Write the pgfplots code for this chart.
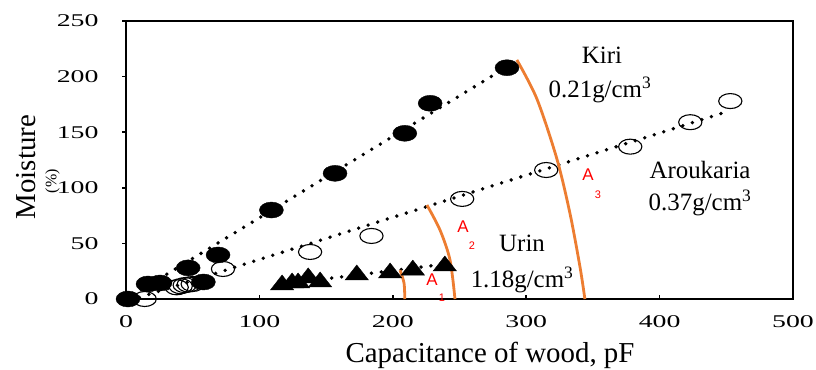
\documentclass[border=0pt]{standalone}
\usepackage{pgfplots}
\pgfplotsset{compat=1.18}
\usepackage{fontspec}
\setmainfont{Liberation Serif}
\newfontfamily\sansf{Liberation Sans}
\usepackage{graphicx}
\definecolor{orng}{RGB}{237,125,49}
\begin{document}
\begin{tikzpicture}[x=1bp,y=1bp]
\useasboundingbox (0,0) rectangle (816,369);
\begin{axis}[
  at={(126bp,70bp)}, anchor=south west,
  scale only axis, width=667bp, height=278bp,
  xmin=0, xmax=500, ymin=0, ymax=250,
  xtick={0,100,200,300,400,500},
  ytick={0,50,100,150,200,250},
  xtick pos=lower, ytick pos=left,
  xtick align=inside, ytick align=outside,
  major tick length=4bp,
  axis line style={line width=1.6bp},
  every tick/.style={black, line width=1.6bp},
  tick label style={font=\fontsize{18}{18}\selectfont},
  xticklabel={\scalebox{1.55}[1]{\pgfmathprintnumber[assume math mode=true]{\tick}}},
  yticklabel={\scalebox{1.55}[1]{\pgfmathprintnumber[assume math mode=true]{\tick}}},
  yticklabel style={anchor=east, xshift=-20bp},
  xticklabel style={anchor=base, yshift=-28bp},
  clip=false,
]
% Kiri (filled circles)
\addplot[only marks, mark=*, mark size=8bp, mark options={xscale=1.5, fill=black, draw=black}]
coordinates {(1.5,0) (16.5,13.5) (25.5,14.4) (46.6,28) (58,15.3) (69,39.6) (109,80) (156.7,113) (209,149) (228,176) (285.6,208)};
% Aroukaria (open circles)
\addplot[only marks, mark=o, mark size=7.5bp, mark options={xscale=1.55, draw=black, line width=1.1bp}]
coordinates {(14,0) (38,10.5) (41,11.5) (44,12.5) (47,13) (50,13.5) (72.7,27) (138,42.3) (184,56.7) (252,90) (315,116) (378,137) (423,159) (453,178)};
% Urin (triangles)
\addplot[only marks, mark=triangle*, mark size=10bp, mark options={xscale=1.35, fill=black, draw=black}]
coordinates {(117,12.6) (124.5,14.4) (129,14.4) (136.6,19) (145.5,15.3) (173,21.6) (198,23.4) (215,26) (239,29.7)};
% trend lines
\addplot[black, line width=3.8bp, line cap=round, dash pattern=on 0bp off 10bp]
coordinates {(5,3.6) (286,209)};
\addplot[black, line width=3.8bp, line cap=round, dash pattern=on 0bp off 10bp]
coordinates {(10,1.4) (452,169)};
\addplot[black, line width=3.8bp, line cap=round, dash pattern=on 0bp off 10bp]
coordinates {(117,13.3) (240,31.5)};
% arcs
\addplot[orng, line width=2.8bp, smooth] coordinates {(205.4,26) (208.4,14.4) (209,0)};
\addplot[orng, line width=2.8bp, smooth] coordinates {(225.6,84.5) (235.4,62) (242.9,35) (246.6,0)};
\addplot[orng, line width=2.8bp, smooth] coordinates {(293,215) (308,180) (323,126) (332.8,77) (340.3,29) (344,0)};
% labels
\node[font=\fontsize{25}{25}\selectfont] at (axis cs:356.8,219.4) {Kiri};
\node[font=\fontsize{25}{25}\selectfont] at (axis cs:355.3,188) {0.21g/cm\textsuperscript{3}};
\node[font=\fontsize{25}{25}\selectfont] at (axis cs:430.3,116) {Aroukaria};
\node[font=\fontsize{25}{25}\selectfont] at (axis cs:430.3,86.3) {0.37g/cm\textsuperscript{3}};
\node[font=\fontsize{25}{25}\selectfont] at (axis cs:296.9,50.4) {Urin};
\node[font=\fontsize{25}{25}\selectfont] at (axis cs:296.9,17.1) {1.18g/cm\textsuperscript{3}};
\node[red, font=\sansf\fontsize{17}{17}\selectfont] at (axis cs:229.4,17.1) {A};
\node[red, font=\sansf\fontsize{11}{11}\selectfont] at (axis cs:236.9,0.9) {1};
\node[red, font=\sansf\fontsize{17}{17}\selectfont] at (axis cs:252.6,64.7) {A};
\node[red, font=\sansf\fontsize{11}{11}\selectfont] at (axis cs:259.4,47.7) {2};
\node[red, font=\sansf\fontsize{17}{17}\selectfont] at (axis cs:346.3,111.5) {A};
\node[red, font=\sansf\fontsize{11}{11}\selectfont] at (axis cs:353.8,93.5) {3};
\node[font=\fontsize{29}{29}\selectfont, anchor=base] at (axis cs:272.9,-57.5) {Capacitance of wood, pF};
\node[font=\fontsize{29}{29}\selectfont, rotate=90, anchor=base] at (axis cs:-68.2,118.7) {Moisture};
\node[font=\fontsize{16}{16}\selectfont, rotate=90] at (axis cs:-55,106) {(\%)};
\end{axis}
\end{tikzpicture}
\end{document}
